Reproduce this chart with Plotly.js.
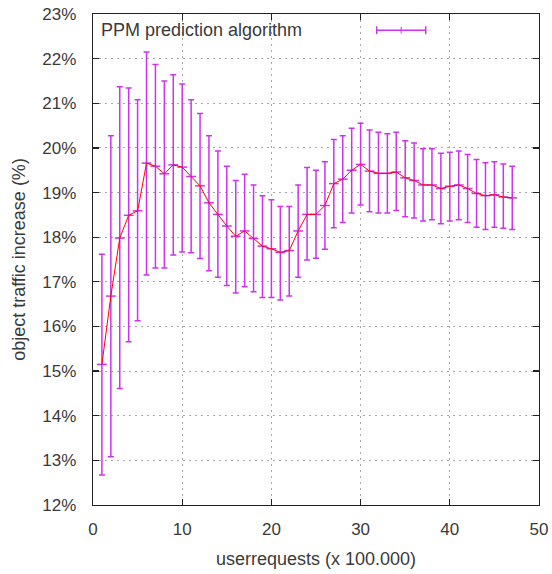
<!DOCTYPE html>
<html>
<head>
<meta charset="utf-8">
<script src="https://cdn.plot.ly/plotly-3.0.1.min.js"></script>
<style>
html,body{margin:0;padding:0;background:#fff;}
#chart{width:552px;height:574px;}
</style>
</head>
<body>
<div id="chart"></div>
<script>
// x: userrequests (x 100.000)
const requests = [1,2,3,4,5,6,7,8,9,10,11,12,13,14,15,16,17,18,19,20,21,22,23,24,25,26,27,28,29,30,31,32,33,34,35,36,37,38,39,40,41,42,43,44,45,46,47];
// mean object traffic increase (%)
const meanIncrease = [15.15,16.68,17.98,18.49,18.59,19.66,19.59,19.42,19.62,19.57,19.36,19.15,18.77,18.51,18.25,18.02,18.14,17.97,17.80,17.74,17.66,17.70,18.14,18.51,18.51,18.71,19.20,19.30,19.50,19.63,19.48,19.43,19.43,19.46,19.33,19.27,19.17,19.17,19.09,19.14,19.17,19.09,18.98,18.93,18.95,18.90,18.88];
// upper end of error bar (%)
const upperBound = [17.62,20.27,21.37,21.34,21.08,22.15,21.87,21.50,21.64,21.43,21.08,20.77,20.27,19.93,19.59,19.27,19.41,19.17,18.93,18.84,18.69,18.69,19.17,19.56,19.50,19.69,20.19,20.27,20.44,20.55,20.40,20.35,20.32,20.35,20.16,20.11,19.98,19.98,19.88,19.90,19.93,19.85,19.74,19.67,19.69,19.64,19.59];
// lower end of error bar (%)
const lowerBound = [12.67,13.08,14.61,15.66,16.13,17.15,17.31,17.31,17.60,17.67,17.65,17.52,17.25,17.10,16.92,16.75,16.89,16.78,16.65,16.65,16.59,16.68,17.10,17.49,17.53,17.73,18.21,18.33,18.54,18.72,18.57,18.54,18.54,18.60,18.46,18.43,18.36,18.39,18.30,18.36,18.39,18.33,18.22,18.17,18.22,18.20,18.17];

const xTickVals = [0,10,20,30,40,50];
const yTickVals = [12,13,14,15,16,17,18,19,20,21,22,23];

const errPlus = meanIncrease.map((m,i)=>upperBound[i]-m);
const errMinus = meanIncrease.map((m,i)=>m-lowerBound[i]);

const barColor = '#cc33ee';
const lineColor = '#ff0000';
const font = 'Liberation Sans, Arial, sans-serif';
const textColor = '#3a3a3a';

const traces = [
  {
    x: requests, y: meanIncrease, type: 'scatter', mode: 'markers',
    marker: {symbol: 'line-ew', size: 7, color: barColor, line: {color: barColor, width: 1.5}},
    error_y: {type: 'data', symmetric: false, array: errPlus, arrayminus: errMinus,
              color: barColor, thickness: 1.5, width: 3},
    showlegend: false, hoverinfo: 'x+y'
  },
  {
    x: requests, y: meanIncrease, type: 'scatter', mode: 'lines',
    line: {color: lineColor, width: 1},
    showlegend: false, hoverinfo: 'skip'
  }
];

const axisCommon = {
  showline: true, linecolor: '#222', linewidth: 1.2, mirror: 'ticks',
  ticks: 'inside', ticklen: 6, tickcolor: '#222', tickwidth: 1.2,
  showgrid: true, gridcolor: '#a8a8a8', griddash: '2px,4px', gridwidth: 1,
  zeroline: false, tickfont: {family: font, size: 17, color: textColor}
};

const layout = {
  width: 552, height: 574,
  margin: {l: 93, r: 13, t: 14, b: 69},
  paper_bgcolor: '#fff', plot_bgcolor: '#fff',
  showlegend: false,
  xaxis: Object.assign({}, axisCommon, {
    range: [0, 50], tickmode: 'array', tickvals: xTickVals,
    ticklabelstandoff: 8,
    title: {text: 'userrequests (x 100.000)', font: {family: font, size: 18, color: textColor}, standoff: 14}
  }),
  yaxis: Object.assign({}, axisCommon, {
    range: [12, 23], tickmode: 'array', tickvals: yTickVals,
    ticktext: yTickVals.map(v => v + '%'),
    ticklabelstandoff: 12,
    title: {text: 'object traffic increase (%)', font: {family: font, size: 18, color: textColor}, standoff: 12}
  }),
  annotations: [
    {xref: 'paper', yref: 'paper', x: 0.013, y: 0.967, xanchor: 'left', yanchor: 'middle',
     text: 'PPM prediction algorithm', showarrow: false,
     font: {family: font, size: 18, color: textColor}}
  ],
  shapes: [
    {type: 'line', xref: 'paper', yref: 'paper', x0: 0.636, x1: 0.746, y0: 0.967, y1: 0.967,
     line: {color: barColor, width: 1.5}},
    {type: 'line', xref: 'paper', yref: 'paper', x0: 0.636, x1: 0.636, y0: 0.959, y1: 0.975,
     line: {color: barColor, width: 1.5}},
    {type: 'line', xref: 'paper', yref: 'paper', x0: 0.746, x1: 0.746, y0: 0.959, y1: 0.975,
     line: {color: barColor, width: 1.5}},
    {type: 'line', xref: 'paper', yref: 'paper', x0: 0.691, x1: 0.691, y0: 0.960, y1: 0.974,
     line: {color: barColor, width: 1}}
  ]
};

Plotly.newPlot('chart', traces, layout, {displayModeBar: false, staticPlot: true});
</script>
</body>
</html>
